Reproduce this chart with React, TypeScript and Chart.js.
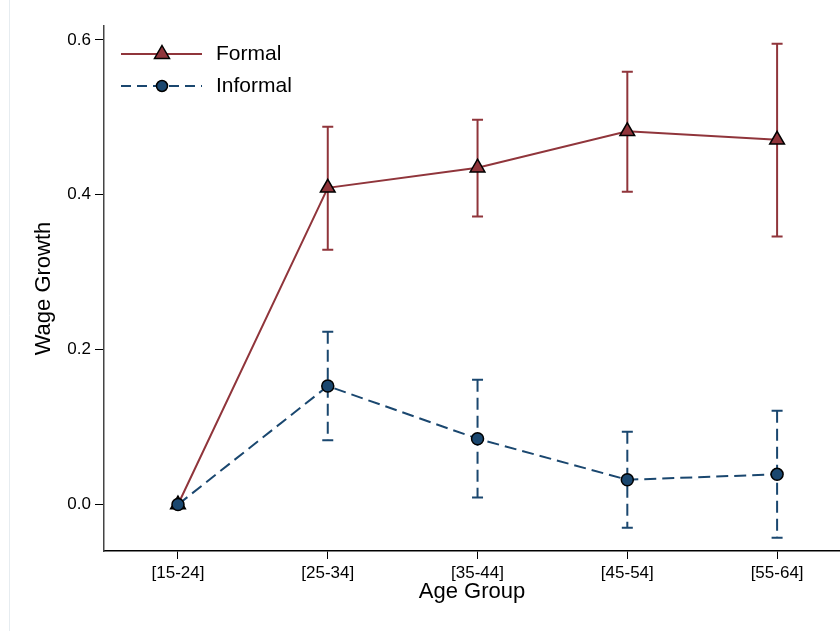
import React, { useEffect, useRef } from "react";
import { Chart, registerables } from "chart.js";

Chart.register(...registerables);

const categories = ["[15-24]", "[25-34]", "[35-44]", "[45-54]", "[55-64]"];
const formal = [0, 0.409, 0.435, 0.482, 0.471];
const formalLow = [0, 0.329, 0.372, 0.404, 0.346];
const formalHigh = [0, 0.488, 0.497, 0.559, 0.595];
const informal = [0, 0.153, 0.085, 0.032, 0.039];
const informalLow = [0, 0.083, 0.009, -0.030, -0.043];
const informalHigh = [0, 0.223, 0.161, 0.094, 0.121];
const yTicks = [0, 0.2, 0.4, 0.6];

const FORMAL_COLOR = "#90353b";
const INFORMAL_COLOR = "#1a476f";
const INFORMAL_DASH = [12, 6];

const errorBarPlugin = {
  id: "errorBars",
  beforeDatasetsDraw(chart: any) {
    const ctx = chart.ctx;
    const xs = chart.scales.x;
    const ys = chart.scales.y;
    const series = [
      { low: formalLow, high: formalHigh, color: FORMAL_COLOR, dash: [] as number[] },
      { low: informalLow, high: informalHigh, color: INFORMAL_COLOR, dash: INFORMAL_DASH },
    ];
    ctx.save();
    for (const s of series) {
      ctx.strokeStyle = s.color;
      ctx.lineWidth = 2;
      for (let i = 0; i < categories.length; i++) {
        if (s.low[i] === s.high[i]) continue;
        const x = xs.getPixelForValue(i + 1);
        const y1 = ys.getPixelForValue(s.low[i]);
        const y2 = ys.getPixelForValue(s.high[i]);
        ctx.setLineDash(s.dash);
        ctx.beginPath();
        ctx.moveTo(x, y2);
        ctx.lineTo(x, y1);
        ctx.stroke();
        ctx.setLineDash([]);
        ctx.beginPath();
        ctx.moveTo(x - 5.5, y1);
        ctx.lineTo(x + 5.5, y1);
        ctx.moveTo(x - 5.5, y2);
        ctx.lineTo(x + 5.5, y2);
        ctx.stroke();
      }
    }
    ctx.restore();
  },
  afterDraw(chart: any) {
    const ctx = chart.ctx;
    ctx.save();
    // faint outer border
    ctx.strokeStyle = "#e6ecf0";
    ctx.lineWidth = 1;
    ctx.beginPath();
    ctx.moveTo(9.5, 0);
    ctx.lineTo(9.5, chart.height);
    ctx.stroke();

    // legend
    const x0 = 121, x1 = 202, xm = 162;
    ctx.strokeStyle = FORMAL_COLOR;
    ctx.lineWidth = 2;
    ctx.beginPath();
    ctx.moveTo(x0, 54);
    ctx.lineTo(x1, 54);
    ctx.stroke();
    ctx.fillStyle = FORMAL_COLOR;
    ctx.strokeStyle = "#000";
    ctx.lineWidth = 1.5;
    ctx.beginPath();
    ctx.moveTo(xm, 45.5);
    ctx.lineTo(xm + 7.5, 58.5);
    ctx.lineTo(xm - 7.5, 58.5);
    ctx.closePath();
    ctx.fill();
    ctx.stroke();

    ctx.strokeStyle = INFORMAL_COLOR;
    ctx.lineWidth = 2;
    ctx.setLineDash([10, 6]);
    ctx.beginPath();
    ctx.moveTo(x0, 86);
    ctx.lineTo(x1, 86);
    ctx.stroke();
    ctx.setLineDash([]);
    ctx.fillStyle = INFORMAL_COLOR;
    ctx.strokeStyle = "#000";
    ctx.lineWidth = 1.5;
    ctx.beginPath();
    ctx.arc(xm, 86, 5.5, 0, Math.PI * 2);
    ctx.fill();
    ctx.stroke();

    ctx.fillStyle = "#000";
    ctx.font = "21px 'Liberation Sans', Arial, sans-serif";
    ctx.textBaseline = "middle";
    ctx.textAlign = "left";
    ctx.fillText("Formal", 216, 54);
    ctx.fillText("Informal", 216, 86);
    ctx.restore();
  },
};

export default function App() {
  const ref = useRef<HTMLCanvasElement | null>(null);
  useEffect(() => {
    document.body.style.margin = "0";
    const canvas = ref.current!;
    const chart = new Chart(canvas, {
      type: "line",
      data: {
        datasets: [
          {
            label: "Formal",
            data: formal.map((v, i) => ({ x: i + 1, y: v })),
            borderColor: FORMAL_COLOR,
            backgroundColor: FORMAL_COLOR,
            borderWidth: 2,
            pointStyle: "triangle",
            pointRadius: 8.5,
            pointBorderColor: "#000",
            pointBorderWidth: 1.5,
            pointBackgroundColor: FORMAL_COLOR,
            tension: 0,
            clip: false as any,
            order: 2,
          },
          {
            label: "Informal",
            data: informal.map((v, i) => ({ x: i + 1, y: v })),
            borderColor: INFORMAL_COLOR,
            backgroundColor: INFORMAL_COLOR,
            borderWidth: 2,
            borderDash: INFORMAL_DASH,
            pointStyle: "circle",
            pointRadius: 6,
            pointBorderColor: "#000",
            pointBorderWidth: 1.5,
            pointBackgroundColor: INFORMAL_COLOR,
            tension: 0,
            clip: false as any,
            order: 1,
          },
        ],
      },
      options: {
        animation: false,
        responsive: false,
        maintainAspectRatio: false,
        layout: { autoPadding: false, padding: { top: 26, right: 0, left: 0, bottom: 0 } },
        plugins: {
          legend: { display: false },
          tooltip: { enabled: false },
        },
        scales: {
          x: {
            type: "linear",
            min: 0.506,
            max: 5.42,
            afterBuildTicks: (scale: any) => {
              scale.ticks = categories.map((_, i) => ({ value: i + 1 }));
            },
            afterFit: (scale: any) => {
              scale.height = 80;
              scale.paddingLeft = 0;
              scale.paddingRight = 0;
            },
            ticks: {
              autoSkip: false,
              maxRotation: 0,
              color: "#000",
              padding: 4,
              font: { family: "'Liberation Sans', Arial, sans-serif", size: 17 },
              callback: (v: any) => categories[Number(v) - 1] ?? "",
            },
            grid: {
              drawOnChartArea: false,
              drawTicks: true,
              tickLength: 8,
              color: "#000",
              lineWidth: 1,
            },
            border: { display: true, color: "#000", width: 1.5 },
            title: {
              display: true,
              text: "Age Group",
              color: "#000",
              font: { family: "'Liberation Sans', Arial, sans-serif", size: 22 },
              padding: { top: 0, bottom: 26 },
            },
          },
          y: {
            min: -0.06,
            max: 0.618,
            afterBuildTicks: (scale: any) => {
              scale.ticks = yTicks.map((v) => ({ value: v }));
            },
            afterFit: (scale: any) => {
              scale.width = 104;
              scale.paddingTop = 0;
              scale.paddingBottom = 0;
            },
            ticks: {
              color: "#000",
              padding: 4,
              font: { family: "'Liberation Sans', Arial, sans-serif", size: 17 },
              callback: (v: any) => Number(v).toFixed(1),
            },
            grid: {
              drawOnChartArea: false,
              drawTicks: true,
              tickLength: 9,
              color: "#000",
              lineWidth: 1,
            },
            border: { display: true, color: "#444", width: 1.5 },
            title: {
              display: true,
              text: "Wage Growth",
              color: "#000",
              font: { family: "'Liberation Sans', Arial, sans-serif", size: 22 },
              padding: { top: 31, bottom: 0 },
            },
          },
        },
      },
      plugins: [errorBarPlugin],
    });
    return () => chart.destroy();
  }, []);
  return (
    <div style={{ width: 840, height: 631, background: "#fff" }}>
      <canvas ref={ref} width={840} height={631} style={{ display: "block" }} />
    </div>
  );
}
